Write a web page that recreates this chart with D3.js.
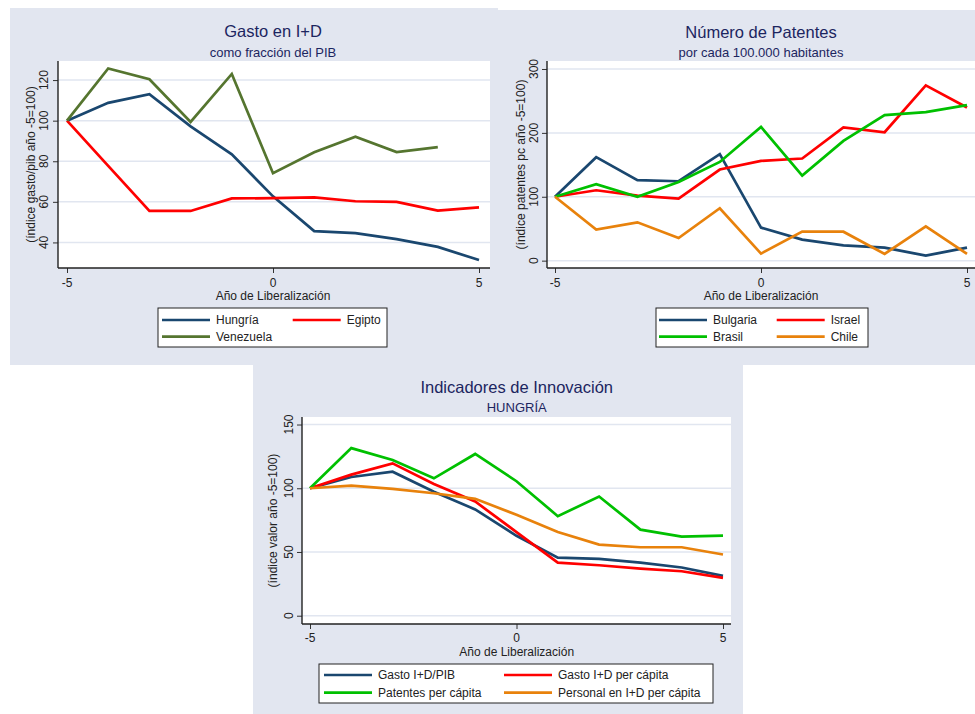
<!DOCTYPE html>
<html>
<head>
<meta charset="utf-8">
<script src="https://cdn.jsdelivr.net/npm/d3@7"></script>
<style>
  body { margin: 0; background: #fff; }
  svg { display: block; font-family: "Liberation Sans", Arial, sans-serif; }
</style>
</head>
<body>
<div id="chart"></div>
<script>
// years relative to liberalization
const years = [-5, -4, -3, -2, -1, 0, 1, 2, 3, 4, 5];
const xTicks = [-5, 0, 5];

// panel 1: gasto en I+D como fracción del PIB
const hungria = [100, 108.8, 113, 97.2, 83.4, 62.7, 45.6, 44.6, 41.6, 37.8, 31.3];
const egipto = [100, 77.7, 55.5, 55.5, 61.7, 61.8, 62.2, 60.3, 60, 55.7, 57.3];
const venezuela = [100, 125.7, 120.4, 99.4, 123, 74.1, 84.4, 92.1, 84.5, 87, null];
const gastoTicks = [40, 60, 80, 100, 120];

// panel 2: patentes por cada 100.000 habitantes
const bulgaria = [100, 162, 126, 124.3, 166.6, 51.7, 32.9, 24, 20.4, 7.8, 20.4];
const israel = [100, 110.2, 101.9, 97.2, 142.6, 156.1, 159.9, 208.5, 201, 274.3, 239.8];
const brasil = [100, 119.6, 100, 123.2, 154.5, 209.4, 133.2, 187.5, 227.7, 232.4, 243.4];
const chile = [100, 48.6, 60, 35.4, 82, 11, 45.5, 45.3, 10.6, 53.8, 10.6];
const patentesTicks = [0, 100, 200, 300];

// panel 3: indicadores de innovación, Hungría
const gastoPc = [100, 110.7, 119.5, 103.4, 89.6, 65.6, 41.7, 39.6, 37, 34.9, 29.7];
const patentesPc = [100, 131.5, 122.2, 107.8, 126.9, 105.5, 78.1, 93.5, 67.5, 62, 62.8];
const personalPc = [100, 102.1, 99.5, 96.1, 91.7, 79.2, 65.6, 55.8, 53.7, 53.7, 48];
const innovTicks = [0, 50, 100, 150];

const colors = {
  navy: "#1a476f",
  red: "#ff0000",
  olive: "#55752f",
  green: "#00c000",
  orange: "#e8820c"
};

const W = 975, H = 714;
const svg = d3.select("#chart").append("svg")
  .attr("width", W)
  .attr("height", H);

svg.append("rect").attr("width", W).attr("height", H).attr("fill", "#fff");

const panels = [
  {
    bg: { x: 10, y: 8, w: 488, h: 357 },
    plot: { left: 58, right: 490, top: 61, bottom: 268 },
    xRange: [67, 479],
    yDomain: [27.4, 129.4],
    yTicks: gastoTicks,
    title: "Gasto en I+D", titleY: 37,
    subtitle: "como fracción del PIB", subtitleY: 56.5,
    cx: 273,
    yTitle: "(índice gasto/pib año -5=100)", yTitleX: 34.5, yTickX: 48,
    xTickY: 286.5, xTitleY: 300,
    series: [
      { name: "Hungría", values: hungria, color: colors.navy },
      { name: "Egipto", values: egipto, color: colors.red },
      { name: "Venezuela", values: venezuela, color: colors.olive }
    ],
    legend: { x: 158, y: 308, w: 229, h: 39, cols: [162, 292.7], rows: [320, 336.7] }
  },
  {
    bg: { x: 498, y: 10, w: 477, h: 355 },
    plot: { left: 547, right: 975, top: 61, bottom: 268 },
    xRange: [555, 967],
    yDomain: [-11.5, 312.5],
    yTicks: patentesTicks,
    title: "Número de Patentes", titleY: 38,
    subtitle: "por cada 100.000 habitantes", subtitleY: 57,
    cx: 761,
    yTitle: "(índice patentes pc año -5=100)", yTitleX: 524.5, yTickX: 538.3,
    xTickY: 286.5, xTitleY: 300,
    series: [
      { name: "Bulgaria", values: bulgaria, color: colors.navy },
      { name: "Israel", values: israel, color: colors.red },
      { name: "Brasil", values: brasil, color: colors.green },
      { name: "Chile", values: chile, color: colors.orange }
    ],
    legend: { x: 656, y: 308, w: 212, h: 39, cols: [659, 776.7], rows: [320, 336.7] }
  },
  {
    bg: { x: 253, y: 365, w: 490, h: 349 },
    plot: { left: 302, right: 731, top: 417, bottom: 624 },
    xRange: [310, 723],
    yDomain: [-6.5, 155.9],
    yTicks: innovTicks,
    title: "Indicadores de Innovación", titleY: 393,
    subtitle: "HUNGRÍA", subtitleY: 411.7,
    cx: 516.7,
    yTitle: "(índice valor año -5=100)", yTitleX: 277, yTickX: 293.3,
    xTickY: 642, xTitleY: 655.5,
    series: [
      { name: "Gasto I+D/PIB", values: hungria, color: colors.navy },
      { name: "Gasto I+D per cápita", values: gastoPc, color: colors.red },
      { name: "Patentes per cápita", values: patentesPc, color: colors.green },
      { name: "Personal en I+D per cápita", values: personalPc, color: colors.orange }
    ],
    legend: { x: 319, y: 664, w: 394, h: 39, cols: [324, 504], rows: [675, 692.7] }
  }
];

function drawPanel(p) {
  const g = svg.append("g");

  // graph region background
  g.append("rect")
    .attr("x", p.bg.x).attr("y", p.bg.y)
    .attr("width", p.bg.w).attr("height", p.bg.h)
    .attr("fill", "#e2e6f0");

  // plot region
  g.append("rect")
    .attr("x", p.plot.left).attr("y", p.plot.top)
    .attr("width", p.plot.right - p.plot.left)
    .attr("height", p.plot.bottom - p.plot.top)
    .attr("fill", "#fff");

  const x = d3.scaleLinear().domain([-5, 5]).range(p.xRange);
  const y = d3.scaleLinear().domain(p.yDomain).range([p.plot.bottom, p.plot.top]);

  // grid lines
  g.selectAll(".grid")
    .data(p.yTicks)
    .join("line")
    .attr("class", "grid")
    .attr("x1", p.plot.left).attr("x2", p.plot.right)
    .attr("y1", d => y(d)).attr("y2", d => y(d))
    .attr("stroke", "#e1e6f0")
    .attr("stroke-width", 1.5);

  // axes
  const yAxis = g.append("g")
    .attr("transform", `translate(${p.plot.left},0)`)
    .call(d3.axisLeft(y).tickValues(p.yTicks).tickSize(5).tickFormat(""));
  const xAxis = g.append("g")
    .attr("transform", `translate(0,${p.plot.bottom})`)
    .call(d3.axisBottom(x).tickValues(xTicks).tickSize(5).tickFormat(""));
  [yAxis, xAxis].forEach(a => {
    a.select(".domain").remove();
    a.selectAll("line").attr("stroke", "#333").attr("stroke-width", 1);
  });
  g.append("line")
    .attr("x1", p.plot.left).attr("x2", p.plot.left)
    .attr("y1", p.plot.top).attr("y2", p.plot.bottom)
    .attr("stroke", "#222").attr("stroke-width", 1.4);
  g.append("line")
    .attr("x1", p.plot.left).attr("x2", p.plot.right)
    .attr("y1", p.plot.bottom).attr("y2", p.plot.bottom)
    .attr("stroke", "#222").attr("stroke-width", 1.4);

  // rotated y tick labels
  g.selectAll(".ylab")
    .data(p.yTicks)
    .join("text")
    .attr("class", "ylab")
    .attr("transform", d => `translate(${p.yTickX},${y(d)}) rotate(-90)`)
    .attr("text-anchor", "middle")
    .attr("font-size", 12)
    .attr("fill", "#222")
    .text(d => d);

  g.selectAll(".xlab")
    .data(xTicks)
    .join("text")
    .attr("class", "xlab")
    .attr("x", d => x(d)).attr("y", p.xTickY)
    .attr("text-anchor", "middle")
    .attr("font-size", 12)
    .attr("fill", "#222")
    .text(d => d);

  // axis titles
  g.append("text")
    .attr("transform", `translate(${p.yTitleX},${(p.plot.top + p.plot.bottom) / 2}) rotate(-90)`)
    .attr("text-anchor", "middle")
    .attr("font-size", 12)
    .attr("fill", "#222")
    .text(p.yTitle);
  g.append("text")
    .attr("x", p.cx).attr("y", p.xTitleY)
    .attr("text-anchor", "middle")
    .attr("font-size", 12)
    .attr("fill", "#222")
    .text("Año de Liberalización");

  // titles
  g.append("text")
    .attr("x", p.cx).attr("y", p.titleY)
    .attr("text-anchor", "middle")
    .attr("font-size", 16.5)
    .attr("fill", "#1c2560")
    .text(p.title);
  g.append("text")
    .attr("x", p.cx).attr("y", p.subtitleY)
    .attr("text-anchor", "middle")
    .attr("font-size", 13)
    .attr("fill", "#1c2560")
    .text(p.subtitle);

  // series lines
  const line = d3.line()
    .defined(d => d[1] != null)
    .x(d => x(d[0]))
    .y(d => y(d[1]));

  g.selectAll(".series")
    .data(p.series)
    .join("path")
    .attr("class", "series")
    .attr("fill", "none")
    .attr("stroke", d => d.color)
    .attr("stroke-width", 2.7)
    .attr("d", d => line(years.map((yr, i) => [yr, d.values[i]])));

  // legend
  const L = p.legend;
  g.append("rect")
    .attr("x", L.x).attr("y", L.y)
    .attr("width", L.w).attr("height", L.h)
    .attr("fill", "#fff")
    .attr("stroke", "#222")
    .attr("stroke-width", 1);

  const items = g.selectAll(".leg")
    .data(p.series)
    .join("g")
    .attr("class", "leg")
    .attr("transform", (d, i) => `translate(${L.cols[i % 2]},${L.rows[Math.floor(i / 2)]})`);
  items.append("line")
    .attr("x1", 0).attr("x2", 48)
    .attr("stroke", d => d.color)
    .attr("stroke-width", 2.7);
  items.append("text")
    .attr("x", 54).attr("y", 4.3)
    .attr("font-size", 12)
    .attr("fill", "#222")
    .text(d => d.name);
}

panels.forEach(drawPanel);
</script>
</body>
</html>
